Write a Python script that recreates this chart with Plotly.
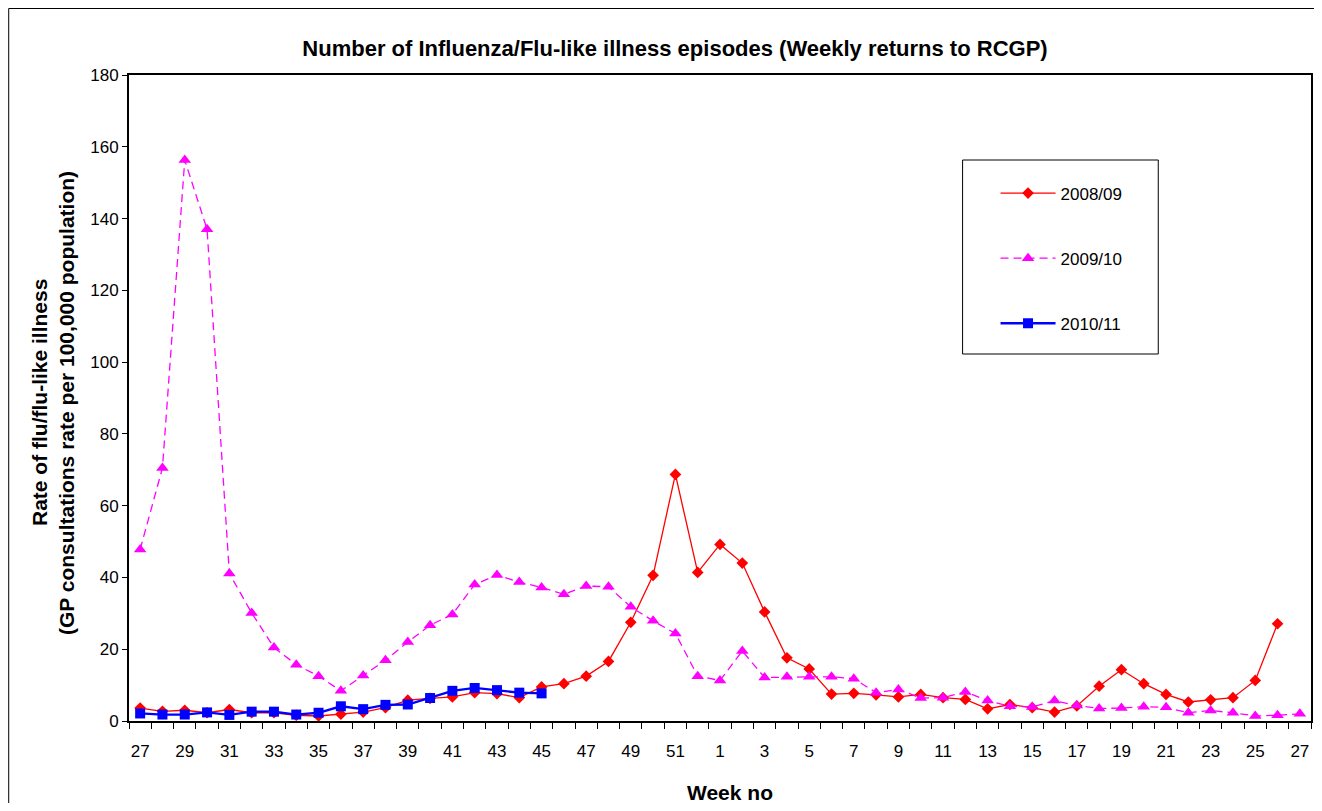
import plotly.graph_objects as go

# ---- data -------------------------------------------------------------
weeks = list(range(27, 53)) + list(range(1, 28))          # 53 week slots
tick_labels = [str(w) for w in weeks[::2]]

series_names = ["2008/09", "2009/10", "2010/11"]

rate_2008_09 = [3.6, 2.7, 3.0, 2.3, 3.2, 2.3, 2.3, 1.6, 1.4, 1.9, 2.5, 3.7, 5.8,
                6.3, 6.7, 7.9, 7.6, 6.5, 9.5, 10.4, 12.5, 16.6, 27.5, 40.6, 68.7, 41.4,
                49.2, 44.0, 30.4, 17.6, 14.5, 7.5, 7.7, 7.3, 6.7, 7.4, 6.5, 6.0, 3.4,
                4.6, 3.7, 2.5, 4.2, 9.7, 14.3, 10.4, 7.4, 5.3, 5.9, 6.5, 11.3, 27.1]

rate_2009_10 = [47.8, 70.5, 156.3, 137.0, 41.1, 30.1, 20.5, 15.7, 12.5, 8.4, 12.7, 16.9,
                22.0, 26.7, 29.7, 38.0, 40.7, 38.7, 37.2, 35.3, 37.6, 37.4, 31.8, 27.9,
                24.4, 12.5, 11.3, 19.5, 12.1, 12.3, 12.3, 12.3, 11.8, 7.9, 8.8, 6.4, 6.5,
                8.1, 5.7, 4.1, 3.9, 5.7, 4.3, 3.5, 3.6, 4.0, 3.8, 2.3, 2.9, 2.3, 1.4, 1.6, 2.0]

rate_2010_11 = [2.1, 1.8, 1.8, 2.4, 1.7, 2.6, 2.6, 1.8, 2.3, 4.1, 3.3, 4.5, 4.6, 6.4,
                8.4, 9.2, 8.6, 7.9, 7.7]

# ---- geometry (page pixels; page body has an 8px margin) ----------------
OFF = 8
W, H = 1322 - 2 * OFF, 811 - 2 * OFF
PLOT_L, PLOT_R, PLOT_T, PLOT_B = 129, 1313, 75, 721      # page pixels
ML, MR = PLOT_L - OFF, W - (PLOT_R - OFF)
MT, MB = PLOT_T - OFF, H - (PLOT_B - OFF)
PW, PH = PLOT_R - PLOT_L, PLOT_B - PLOT_T


def px_x(p):
    return (p - PLOT_L) / PW


def px_y(p):
    return (PLOT_B - p) / PH


FONT = "Liberation Sans, Arial, sans-serif"
slots = list(range(len(weeks)))

fig = go.Figure()
fig.add_trace(go.Scatter(
    x=slots[:len(rate_2008_09)], y=rate_2008_09, name=series_names[0], legendgroup="a",
    mode="lines+markers", line=dict(color="#FF0000", width=1.3),
    marker=dict(symbol="diamond", size=9, color="#FF0000")))
fig.add_trace(go.Scatter(
    x=slots[:len(rate_2009_10)], y=rate_2009_10, name=series_names[1], legendgroup="b",
    mode="lines+markers", line=dict(color="#FF00FF", width=1.3, dash="8px,5px"),
    marker=dict(symbol="triangle-up", size=11, color="#FF00FF")))
fig.add_trace(go.Scatter(
    x=slots[:len(rate_2010_11)], y=rate_2010_11, name=series_names[2], legendgroup="c",
    mode="lines+markers", line=dict(color="#0000FF", width=2.3),
    marker=dict(symbol="square", size=10, color="#0000FF")))

fig.update_layout(
    width=W, height=H,
    margin=dict(l=ML, r=MR, t=MT, b=MB),
    paper_bgcolor="white", plot_bgcolor="white",
    font=dict(family=FONT, size=17, color="black"),
    showlegend=True,
    title=dict(text="<b>Number of Influenza/Flu-like illness episodes (Weekly returns to RCGP)</b>",
               x=(675 - OFF) / W, xanchor="center", xref="container",
               y=1 - (48 - OFF) / H, yanchor="middle", yref="container",
               font=dict(family=FONT, size=22, color="black")),
    legend=dict(x=px_x(997), y=px_y(175.5), xanchor="left", yanchor="top",
                bgcolor="rgba(0,0,0,0)", borderwidth=0,
                font=dict(family=FONT, size=17, color="black"),
                tracegroupgap=40, itemwidth=55),
    xaxis=dict(range=[-0.5, len(weeks) - 0.5], tickmode="array",
               tickvals=slots[::2], ticktext=tick_labels,
               ticks="outside", ticklen=0, ticklabelstandoff=14,
               showline=True, linecolor="black", linewidth=2, mirror=True,
               showgrid=False, zeroline=False,
               minor=dict(tickmode="linear", tick0=-0.5, dtick=1, ticks="outside",
                          ticklen=6, tickcolor="black", tickwidth=1, showgrid=False),
               tickfont=dict(family=FONT, size=17, color="black")),
    yaxis=dict(range=[0, 180], tickmode="linear", tick0=0, dtick=20,
               ticks="outside", ticklen=5, tickcolor="black",
               showline=True, linecolor="black", linewidth=2, mirror=True,
               showgrid=False, zeroline=False,
               tickfont=dict(family=FONT, size=17, color="black")),
    shapes=[
        # legend frame
        dict(type="rect", xref="paper", yref="paper",
             x0=px_x(964), x1=px_x(1160), y0=px_y(354), y1=px_y(160),
             line=dict(color="black", width=1), fillcolor="rgba(0,0,0,0)"),
        # outer chart frame: left and top edges (others fall outside the view)
        dict(type="line", xref="paper", yref="paper",
             x0=px_x(OFF + 0.5), x1=px_x(OFF + 0.5), y0=px_y(900), y1=px_y(OFF + 0.5),
             line=dict(color="black", width=1), layer="below"),
        dict(type="line", xref="paper", yref="paper",
             x0=px_x(OFF + 0.5), x1=px_x(1400), y0=px_y(OFF + 0.5), y1=px_y(OFF + 0.5),
             line=dict(color="black", width=1), layer="below"),
    ],
    annotations=[
        dict(text="<b>Rate of flu/flu-like illness</b>", textangle=-90,
             xref="paper", yref="paper", x=0, y=px_y(403), xshift=39 - PLOT_L,
             xanchor="center", yanchor="middle", showarrow=False,
             font=dict(family=FONT, size=21, color="black")),
        dict(text="<b>(GP consultations rate per 100,000 population)</b>", textangle=-90,
             xref="paper", yref="paper", x=0, y=px_y(403), xshift=66 - PLOT_L,
             xanchor="center", yanchor="middle", showarrow=False,
             font=dict(family=FONT, size=21, color="black")),
        dict(text="<b>Week no</b>", xref="paper", yref="paper", x=px_x(731), y=0,
             yshift=-(792 - PLOT_B), xanchor="center", yanchor="middle",
             showarrow=False, font=dict(family=FONT, size=21, color="black")),
    ],
)

fig.write_html("out.html")
